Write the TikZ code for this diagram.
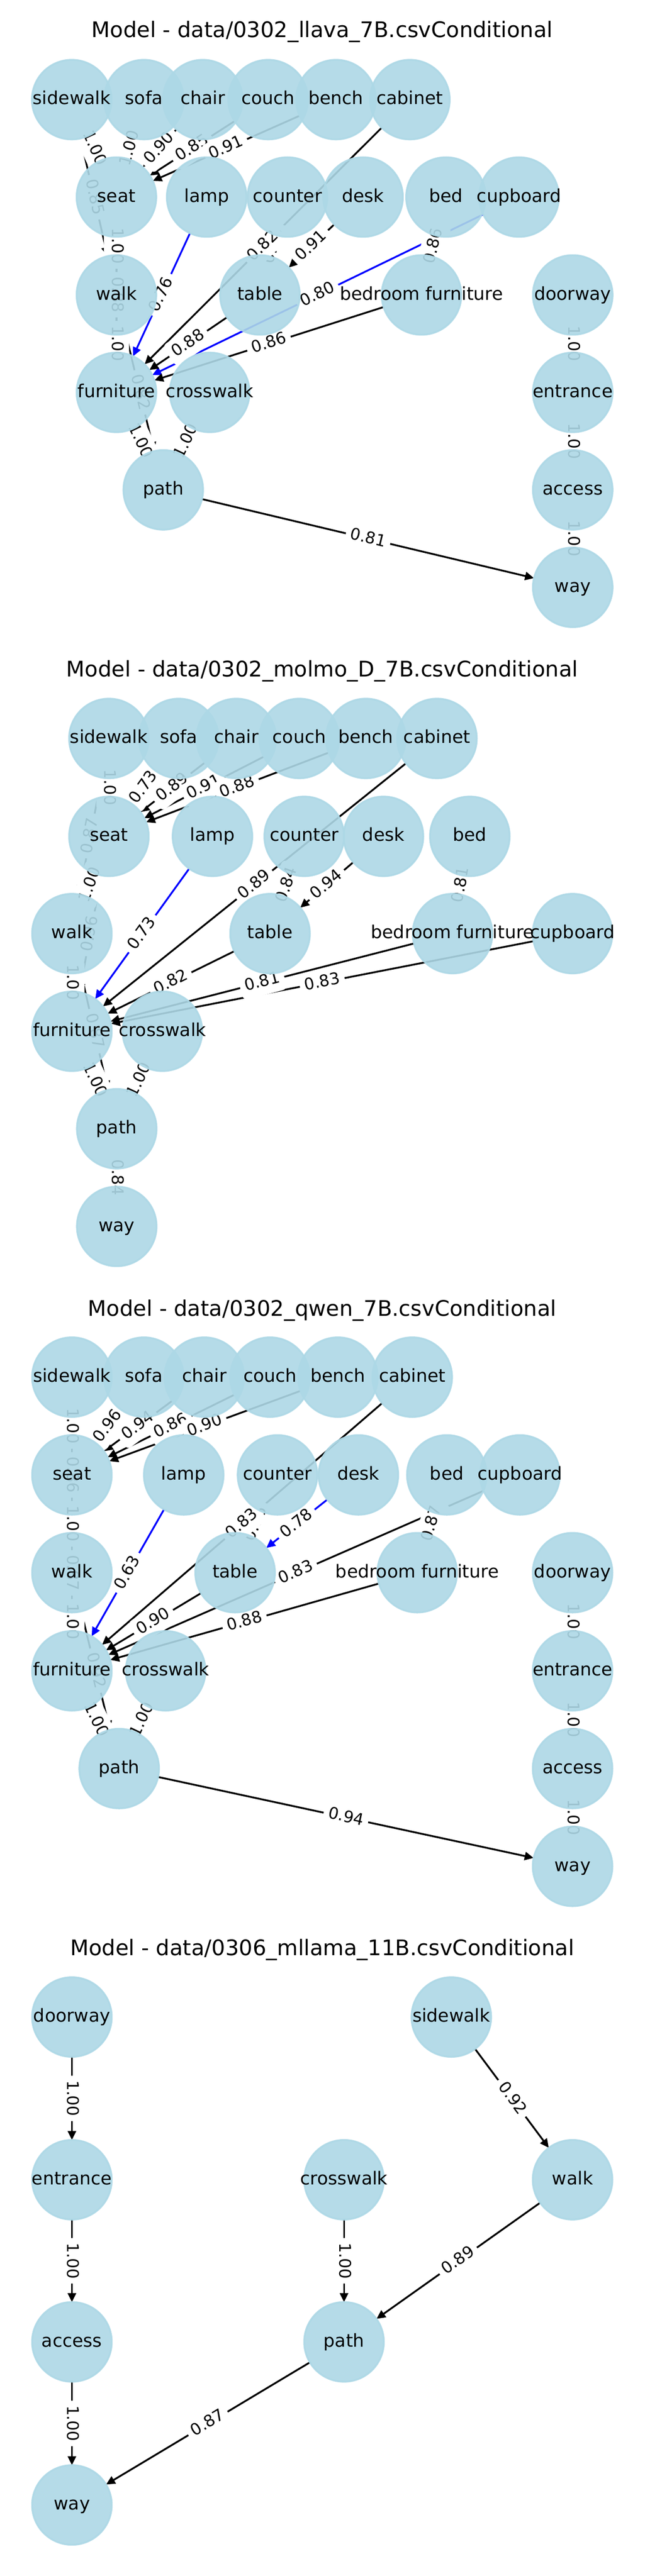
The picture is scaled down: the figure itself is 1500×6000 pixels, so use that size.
\documentclass[tikz,border=0pt]{standalone}
\usepackage{fontspec}
\setmainfont{DejaVu Sans}
\usetikzlibrary{arrows.meta}
\definecolor{nodeblue}{HTML}{ADD8E6}
\pgfdeclarelayer{edgelayer}
\pgfdeclarelayer{elabellayer}
\pgfdeclarelayer{nlabellayer}
\pgfsetlayers{edgelayer,elabellayer,main,nlabellayer}
\tikzset{
  vnode/.style={circle, minimum size=44.5bp, inner sep=0pt, outer sep=0pt,
    fill=nodeblue, fill opacity=0.9, draw=nodeblue, draw opacity=0.9, line width=1bp},
  vlabel/.style={font=\fontsize{10bp}{12bp}\selectfont, text=black, inner sep=0pt,
    text height=7.6bp, text depth=2.08bp},
  edge/.style={draw=black, line width=1bp, -{Triangle[length=5bp,width=4.6bp]}},
  bedge/.style={edge, draw=blue},
  elabel/.style={font=\fontsize{9bp}{11bp}\selectfont, text=black, fill=white,
    rounded corners=2.7bp, inner xsep=2.7bp, inner ysep=2.7bp,
    text height=6.84bp, text depth=1.87bp, sloped, midway},
  ptitle/.style={font=\fontsize{12bp}{14bp}\selectfont, text=black, anchor=base, inner sep=0pt}
}
\newcommand\mknode[4]{%
  \node[vnode] (#1) at (#2,#3) {};%
  \begin{pgfonlayer}{nlabellayer}\node[vlabel] (#1-t) at (#2,#3) {#4};\end{pgfonlayer}%
}
\newcommand\mkedge[4][edge]{%
  \begin{pgfonlayer}{edgelayer}\draw[#1] (#2) -- (#3);\end{pgfonlayer}%
  \begin{pgfonlayer}{elabellayer}\path (#2.center) -- node[elabel] (#2-#3-l) {#4} (#3.center);\end{pgfonlayer}%
}
\begin{document}
\begin{tikzpicture}[x=0.24bp, y=-0.24bp]
\begin{pgfonlayer}{edgelayer}
\path[fill=white, use as bounding box] (0,0) rectangle (1500,6000);
\end{pgfonlayer}

% ---------------- Panel 1 ----------------
\node[ptitle] (t1) at (750,87.6) {Model - data/0302\_llava\_7B.csvConditional};
\mknode{a-sidewalk}{167}{232}{sidewalk}
\mknode{a-sofa}{335}{232}{sofa}
\mknode{a-chair}{472}{232}{chair}
\mknode{a-couch}{624}{232}{couch}
\mknode{a-bench}{782}{232}{bench}
\mknode{a-cabinet}{954}{232}{cabinet}
\mknode{a-seat}{271}{459}{seat}
\mknode{a-lamp}{481}{459}{lamp}
\mknode{a-counter}{669}{459}{counter}
\mknode{a-desk}{845}{459}{desk}
\mknode{a-bed}{1038}{459}{bed}
\mknode{a-cupboard}{1208}{459}{cupboard}
\mknode{a-walk}{271}{687}{walk}
\mknode{a-table}{605}{687}{table}
\mknode{a-bf}{981}{687}{bedroom furniture}
\mknode{a-doorway}{1333}{687}{doorway}
\mknode{a-furniture}{271}{914}{furniture}
\mknode{a-crosswalk}{488}{914}{crosswalk}
\mknode{a-entrance}{1333}{914}{entrance}
\mknode{a-path}{380}{1141}{path}
\mknode{a-access}{1333}{1141}{access}
\mknode{a-way}{1333}{1368}{way}

\mkedge{a-sidewalk}{a-seat}{1.00}
\mkedge{a-sofa}{a-seat}{1.00}
\mkedge{a-chair}{a-seat}{0.90}
\mkedge{a-couch}{a-seat}{0.85}
\mkedge{a-bench}{a-seat}{0.91}
\mkedge{a-sidewalk}{a-walk}{0.85}
\mkedge{a-seat}{a-walk}{1.00}
\mkedge{a-seat}{a-furniture}{0.88}
\mkedge{a-walk}{a-furniture}{1.00}
\mkedge{a-walk}{a-path}{0.82}
\mkedge{a-furniture}{a-path}{1.00}
\mkedge{a-crosswalk}{a-path}{1.00}
\mkedge{a-path}{a-way}{0.81}
\mkedge{a-doorway}{a-entrance}{1.00}
\mkedge{a-entrance}{a-access}{1.00}
\mkedge{a-access}{a-way}{1.00}
\mkedge{a-counter}{a-table}{0.83}
\mkedge{a-cabinet}{a-furniture}{0.82}
\mkedge{a-desk}{a-table}{0.91}
\mkedge{a-bed}{a-bf}{0.86}
\mkedge[bedge]{a-cupboard}{a-furniture}{0.80}
\mkedge[bedge]{a-lamp}{a-furniture}{0.76}
\mkedge{a-table}{a-furniture}{0.88}
\mkedge{a-bf}{a-furniture}{0.86}

% ---------------- Panel 2 ----------------
\node[ptitle] (t2) at (750,1576.5) {Model - data/0302\_molmo\_D\_7B.csvConditional};
\mknode{b-sidewalk}{253.5}{1720}{sidewalk}
\mknode{b-sofa}{416}{1720}{sofa}
\mknode{b-chair}{550}{1720}{chair}
\mknode{b-couch}{696.5}{1720}{couch}
\mknode{b-bench}{851.5}{1720}{bench}
\mknode{b-cabinet}{1017}{1720}{cabinet}
\mknode{b-seat}{253.5}{1948}{seat}
\mknode{b-lamp}{494.5}{1948}{lamp}
\mknode{b-counter}{708}{1948}{counter}
\mknode{b-desk}{892.5}{1948}{desk}
\mknode{b-bed}{1093.5}{1948}{bed}
\mknode{b-walk}{167.4}{2174.5}{walk}
\mknode{b-table}{628.5}{2174.5}{table}
\mknode{b-bf}{1053.3}{2174.5}{bedroom furniture}
\mknode{b-cupboard}{1332.6}{2174.5}{cupboard}
\mknode{b-furniture}{167.4}{2402}{furniture}
\mknode{b-crosswalk}{378}{2402}{crosswalk}
\mknode{b-path}{271.7}{2629}{path}
\mknode{b-way}{271.7}{2856.5}{way}

\mkedge{b-sidewalk}{b-seat}{1.00}
\mkedge{b-sofa}{b-seat}{0.73}
\mkedge{b-chair}{b-seat}{0.89}
\mkedge{b-couch}{b-seat}{0.91}
\mkedge{b-bench}{b-seat}{0.88}
\mkedge{b-sidewalk}{b-walk}{0.87}
\mkedge{b-seat}{b-walk}{1.00}
\mkedge{b-seat}{b-furniture}{0.96}
\mkedge{b-walk}{b-furniture}{1.00}
\mkedge{b-walk}{b-path}{0.87}
\mkedge{b-furniture}{b-path}{1.00}
\mkedge{b-crosswalk}{b-path}{1.00}
\mkedge{b-path}{b-way}{0.84}
\mkedge{b-counter}{b-table}{0.84}
\mkedge{b-cabinet}{b-furniture}{0.89}
\mkedge{b-desk}{b-table}{0.94}
\mkedge{b-bed}{b-bf}{0.81}
\mkedge[bedge]{b-lamp}{b-furniture}{0.73}
\mkedge{b-table}{b-furniture}{0.82}
\mkedge{b-bf}{b-furniture}{0.81}
\mkedge{b-cupboard}{b-furniture}{0.83}

% ---------------- Panel 3 ----------------
\node[ptitle] (t3) at (750,3065) {Model - data/0302\_qwen\_7B.csvConditional};
\mknode{c-sidewalk}{167.4}{3207.6}{sidewalk}
\mknode{c-sofa}{334.8}{3207.6}{sofa}
\mknode{c-chair}{475.5}{3207.6}{chair}
\mknode{c-couch}{628.5}{3207.6}{couch}
\mknode{c-bench}{786.4}{3207.6}{bench}
\mknode{c-cabinet}{959.5}{3207.6}{cabinet}
\mknode{c-seat}{167.4}{3435.3}{seat}
\mknode{c-lamp}{427.6}{3435.3}{lamp}
\mknode{c-counter}{645.8}{3435.3}{counter}
\mknode{c-desk}{834.2}{3435.3}{desk}
\mknode{c-bed}{1040}{3435.3}{bed}
\mknode{c-cupboard}{1210.2}{3435.3}{cupboard}
\mknode{c-walk}{167.4}{3663}{walk}
\mknode{c-table}{547.2}{3663}{table}
\mknode{c-bf}{971}{3663}{bedroom furniture}
\mknode{c-doorway}{1332.6}{3663}{doorway}
\mknode{c-furniture}{167.4}{3891.6}{furniture}
\mknode{c-crosswalk}{385.5}{3891.6}{crosswalk}
\mknode{c-entrance}{1332.6}{3891.6}{entrance}
\mknode{c-path}{277.4}{4119.3}{path}
\mknode{c-access}{1332.6}{4119.3}{access}
\mknode{c-way}{1332.6}{4347}{way}

\mkedge{c-sidewalk}{c-seat}{1.00}
\mkedge{c-sofa}{c-seat}{0.96}
\mkedge{c-chair}{c-seat}{0.94}
\mkedge{c-couch}{c-seat}{0.86}
\mkedge{c-bench}{c-seat}{0.90}
\mkedge{c-sidewalk}{c-walk}{0.86}
\mkedge{c-seat}{c-walk}{1.00}
\mkedge{c-seat}{c-furniture}{0.87}
\mkedge{c-walk}{c-furniture}{1.00}
\mkedge{c-walk}{c-path}{0.92}
\mkedge{c-furniture}{c-path}{1.00}
\mkedge{c-crosswalk}{c-path}{1.00}
\mkedge{c-path}{c-way}{0.94}
\mkedge{c-doorway}{c-entrance}{1.00}
\mkedge{c-entrance}{c-access}{1.00}
\mkedge{c-access}{c-way}{1.00}
\mkedge{c-counter}{c-table}{0.85}
\mkedge{c-cabinet}{c-furniture}{0.83}
\mkedge[bedge]{c-desk}{c-table}{0.78}
\mkedge{c-bed}{c-bf}{0.87}
\mkedge[bedge]{c-lamp}{c-furniture}{0.63}
\mkedge{c-cupboard}{c-furniture}{0.83}
\mkedge{c-table}{c-furniture}{0.90}
\mkedge{c-bf}{c-furniture}{0.88}

% ---------------- Panel 4 ----------------
\node[ptitle] (t4) at (750,4554.5) {Model - data/0306\_mllama\_11B.csvConditional};
\mknode{d-doorway}{167.4}{4698}{doorway}
\mknode{d-sidewalk}{1050.4}{4698}{sidewalk}
\mknode{d-entrance}{167.4}{5077}{entrance}
\mknode{d-crosswalk}{800.7}{5077}{crosswalk}
\mknode{d-walk}{1332.6}{5077}{walk}
\mknode{d-access}{167.4}{5454.7}{access}
\mknode{d-path}{800.7}{5454.7}{path}
\mknode{d-way}{167.4}{5834.5}{way}

\mkedge{d-doorway}{d-entrance}{1.00}
\mkedge{d-entrance}{d-access}{1.00}
\mkedge{d-access}{d-way}{1.00}
\mkedge{d-sidewalk}{d-walk}{0.92}
\mkedge{d-crosswalk}{d-path}{1.00}
\mkedge{d-walk}{d-path}{0.89}
\mkedge{d-path}{d-way}{0.87}
\end{tikzpicture}
\end{document}
